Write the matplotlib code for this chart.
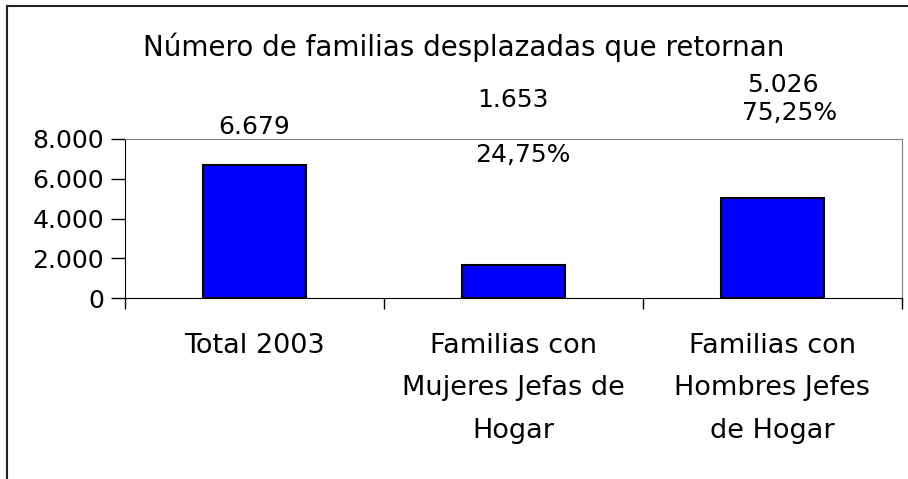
import matplotlib
matplotlib.use("Agg")
import matplotlib.pyplot as plt
from matplotlib.lines import Line2D
from matplotlib.ticker import FixedLocator, FuncFormatter

# Data
categories = ["Total 2003", "Familias con\nMujeres Jefas de\nHogar", "Familias con\nHombres Jefes\nde Hogar"]
familias = [6679, 1653, 5026]
y_ticks = [0, 2000, 4000, 6000, 8000]
title = "Número de familias desplazadas que retornan"

W, H = 908, 479
FS_NUM = 18
FS_TXT = 19.5


def miles(v):
    return f"{int(v):,}".replace(",", ".")


def pct(v):
    return f"{v:.2f}%".replace(".", ",")


fig = plt.figure(figsize=(W / 100, H / 100), dpi=100)
ax = fig.add_axes([125 / W, 1 - 298 / H, (902 - 125) / W, (298 - 139) / H])

x = list(range(len(categories)))
ax.bar(x, familias, width=0.4, color="#0000FF", edgecolor="black", linewidth=1.5, zorder=3)

ax.set_xlim(-0.5, len(categories) - 0.5)
ax.set_ylim(0, 8000)
ax.set_yticks(y_ticks)
ax.yaxis.set_major_formatter(FuncFormatter(lambda v, p: miles(v)))
ax.tick_params(axis="y", direction="out", length=10, width=1, labelsize=FS_NUM, pad=5)

# category separators as major ticks, names on minor ticks
ax.xaxis.set_major_locator(FixedLocator([i - 0.5 for i in range(len(categories) + 1)]))
ax.xaxis.set_major_formatter(FuncFormatter(lambda v, p: ""))
ax.set_xticks(x, minor=True)
ax.set_xticklabels(categories, minor=True, fontsize=FS_TXT, linespacing=1.83)
ax.tick_params(axis="x", which="major", direction="out", length=8, width=1)
ax.tick_params(axis="x", which="minor", length=0, pad=25)

for s in ["top", "right"]:
    ax.spines[s].set_color("#808080")
for s in ["left", "bottom"]:
    ax.spines[s].set_color("black")

# value labels
total = familias[0]
ax.annotate(miles(familias[0]), (0, familias[0]), xytext=(0, 38), textcoords="offset pixels",
            ha="center", va="center", fontsize=FS_NUM, annotation_clip=False)
ax.annotate(miles(familias[1]), (1, familias[1]), xytext=(0, 165), textcoords="offset pixels",
            ha="center", va="center", fontsize=FS_NUM, annotation_clip=False)
ax.annotate(pct(familias[1] / total * 100), (1, familias[1]), xytext=(9, 110), textcoords="offset pixels",
            ha="center", va="center", fontsize=FS_NUM, annotation_clip=False)
ax.annotate(miles(familias[2]), (2, familias[2]), xytext=(10, 113), textcoords="offset pixels",
            ha="center", va="center", fontsize=FS_NUM, annotation_clip=False)
ax.annotate(pct(familias[2] / total * 100), (2, familias[2]), xytext=(17, 85), textcoords="offset pixels",
            ha="center", va="center", fontsize=FS_NUM, annotation_clip=False)

fig.text(464 / W, 1 - 47 / H, title, ha="center", va="center", fontsize=20)

# chart area frame (cropped on the right and bottom)
fig.add_artist(Line2D([7 / W, 7 / W], [0, 1 - 6 / H], color="#202020", linewidth=1.5))
fig.add_artist(Line2D([7 / W, 1], [1 - 6 / H, 1 - 6 / H], color="#202020", linewidth=1.5))

fig.savefig("out.png", dpi=100)
